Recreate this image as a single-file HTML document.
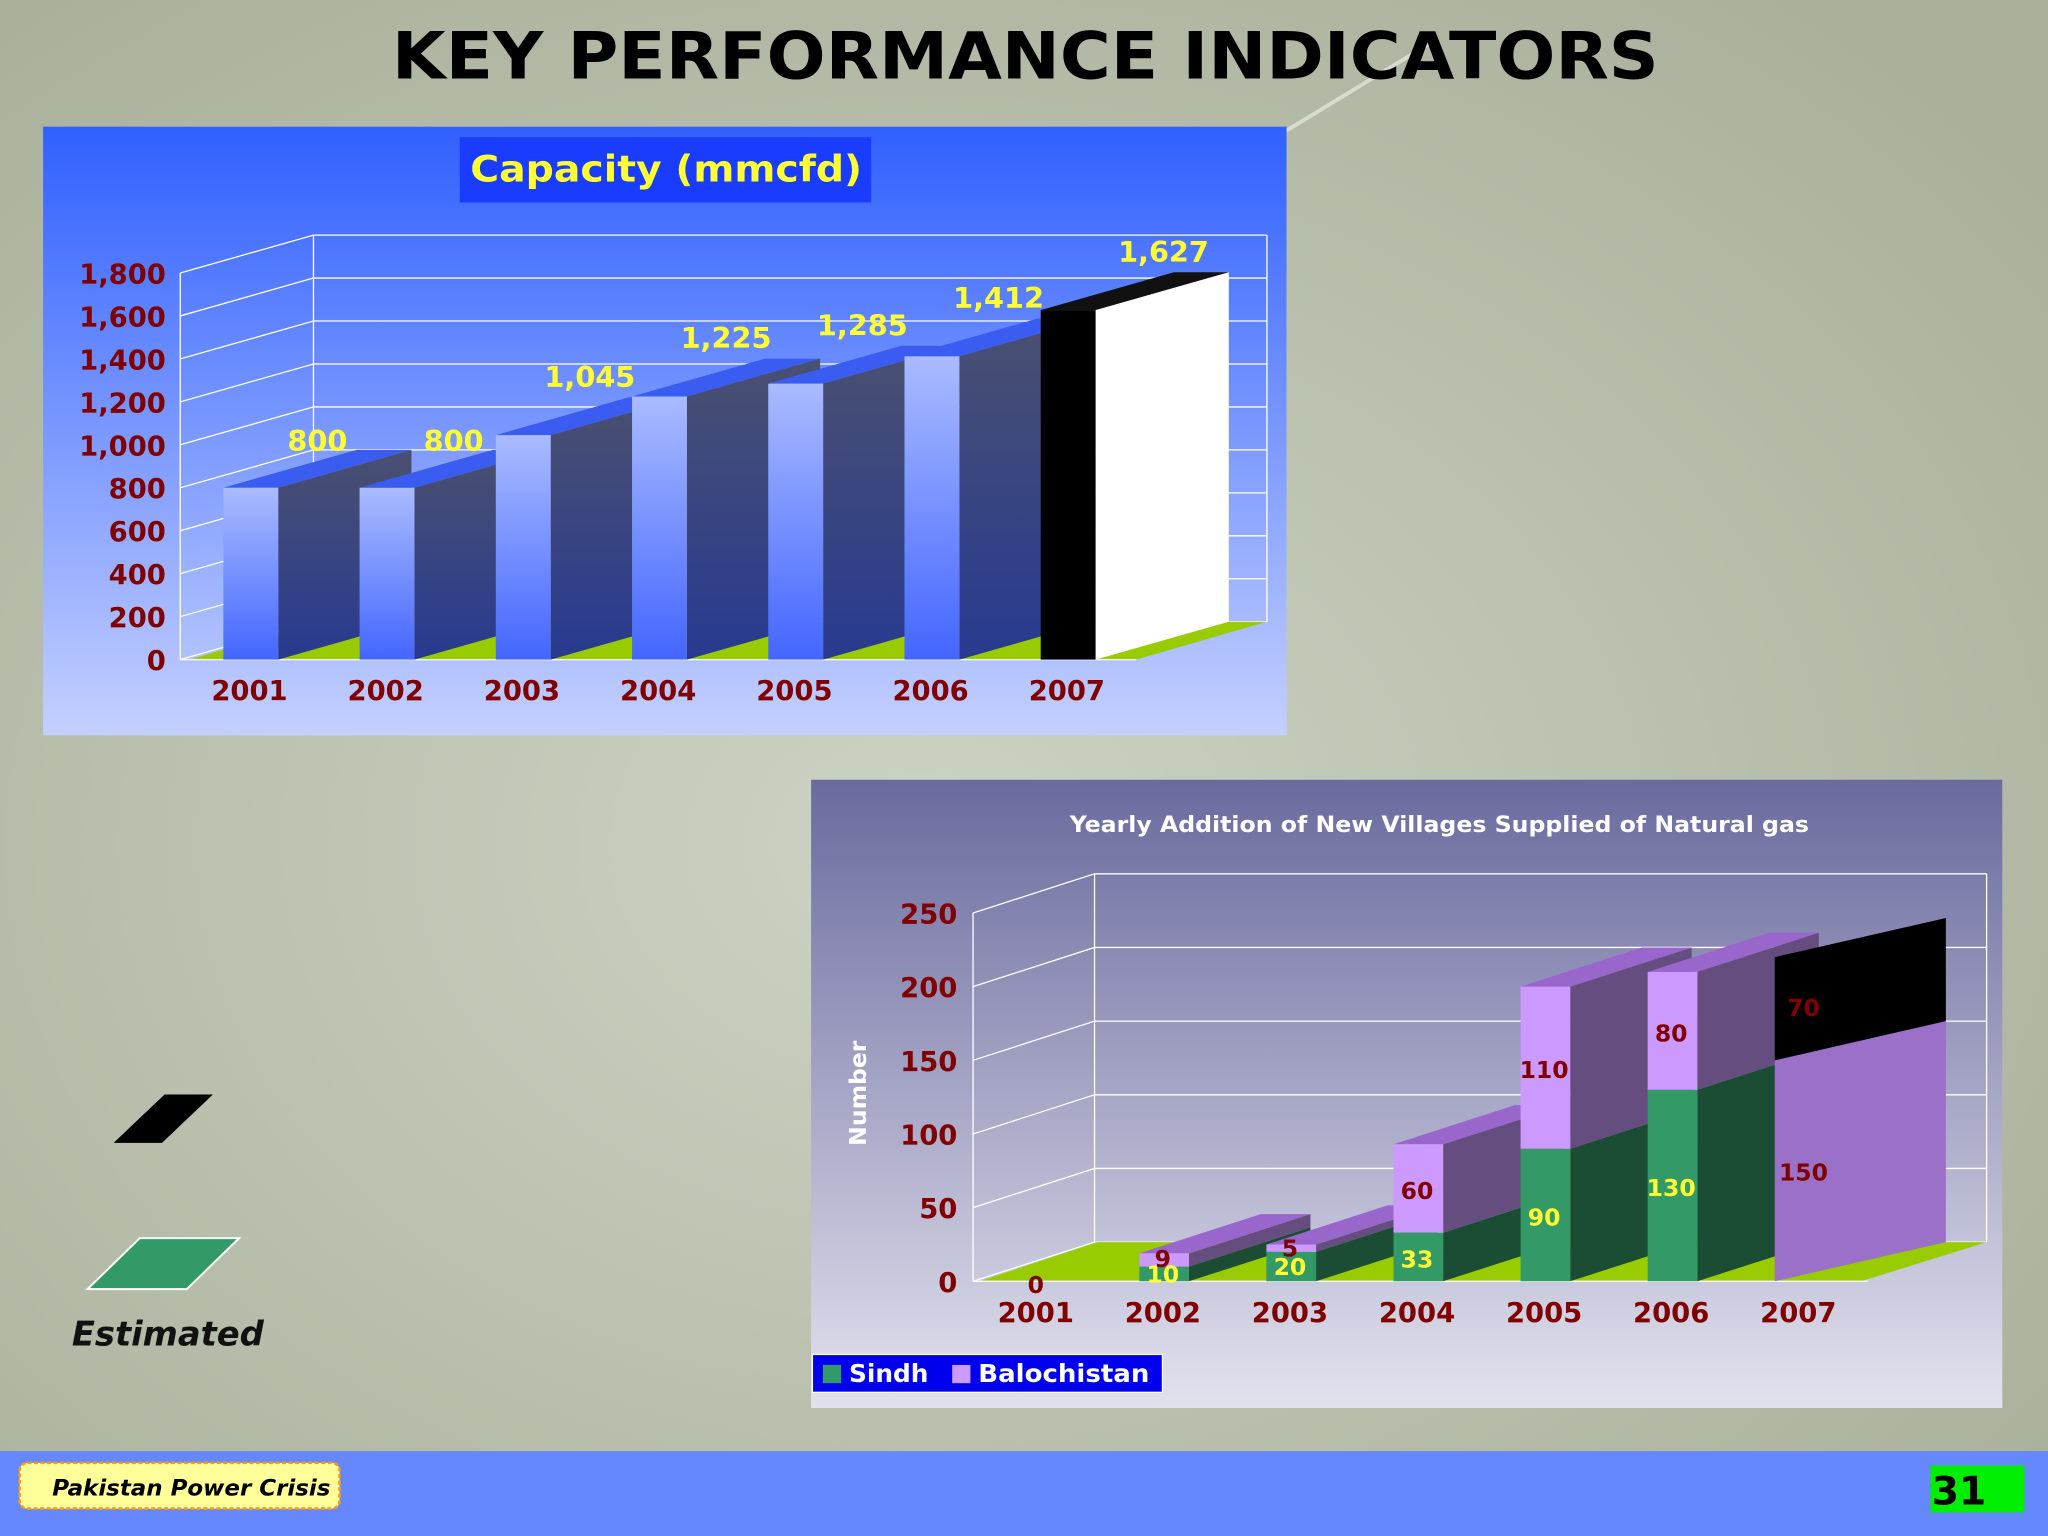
<!DOCTYPE html>
<html><head><meta charset="utf-8"><style>
html,body{margin:0;padding:0;width:2048px;height:1536px;overflow:hidden;background:#b5bca8}
svg{display:block}
text{font-family:"DejaVu Sans","Liberation Sans",sans-serif;font-weight:bold}
</style></head><body>
<svg id="s" width="2048" height="1536" viewBox="0 0 1568 1176" preserveAspectRatio="none" xmlns="http://www.w3.org/2000/svg">
<defs>
<radialGradient id="bg" cx="0.45" cy="0.55" r="0.7"><stop offset="0" stop-color="#cdd3c3"/><stop offset="1" stop-color="#a9b09b"/></radialGradient>
<linearGradient id="p1" x1="0" y1="0" x2="0" y2="1"><stop offset="0" stop-color="#3060ff"/><stop offset="1" stop-color="#c4d0ff"/></linearGradient>
<linearGradient id="p2" x1="0" y1="0" x2="0" y2="1"><stop offset="0" stop-color="#6a6a9e"/><stop offset="1" stop-color="#e2e2ee"/></linearGradient>
<linearGradient id="bf" x1="0" y1="0" x2="0" y2="1"><stop offset="0" stop-color="#aabbff"/><stop offset="1" stop-color="#4466ff"/></linearGradient>
<linearGradient id="bs" x1="0" y1="0" x2="0" y2="1"><stop offset="0" stop-color="#4a5070"/><stop offset="1" stop-color="#283a90"/></linearGradient>
</defs>
<rect width="1568" height="1176" fill="url(#bg)"/>
<line x1="985" y1="100" x2="1100" y2="30" stroke="#e8ece0" stroke-width="3" opacity="0.7"/>
<text x="785" y="60" font-size="50" text-anchor="middle" textLength="970" lengthAdjust="spacingAndGlyphs" fill="#000">KEY PERFORMANCE INDICATORS</text>

<g id="c1">
<rect x="33" y="97" width="952" height="466" fill="url(#p1)"/>
<rect x="352" y="105" width="315" height="50" fill="#1a3cff"/>
<text x="510" y="139" font-size="28" text-anchor="middle" textLength="300" lengthAdjust="spacingAndGlyphs" fill="#ffff33">Capacity (mmcfd)</text>
</g>

<g id="c2">
<rect x="621" y="597" width="912" height="481" fill="url(#p2)"/>
<text x="1102" y="637" font-size="17" text-anchor="middle" textLength="566" lengthAdjust="spacingAndGlyphs" fill="#fff">Yearly Addition of New  Villages Supplied of Natural gas</text>
<text transform="translate(663,837) rotate(-90)" font-size="18" text-anchor="middle" fill="#fff">Number</text>
<rect x="622" y="1037" width="268" height="29" fill="#0000ee" stroke="#fff"/>
<rect x="630" y="1045" width="14" height="14" fill="#339966"/>
<text x="650" y="1058" font-size="19" fill="#fff">Sindh</text>
<rect x="729" y="1045" width="14" height="14" fill="#cc99ff"/>
<text x="749" y="1058" font-size="19" fill="#fff" textLength="131" lengthAdjust="spacingAndGlyphs">Balochistan</text>
</g>

<polygon points="87,875 124,875 163,838 126,838" fill="#000"/>
<polygon points="67,987 143,987 183,948 107,948" fill="#339966" stroke="#fff" stroke-width="1.5"/>
<text x="55" y="1030" font-size="26" font-style="italic" textLength="147" lengthAdjust="spacingAndGlyphs" fill="#111">Estimated</text>

<rect x="0" y="1111" width="1568" height="65" fill="#6688ff"/>
<rect x="15" y="1120" width="245" height="35" rx="6" fill="#ffff99" stroke="#ff9900" stroke-dasharray="3,2" stroke-width="2"/>
<text x="40" y="1145" font-size="17" font-style="italic" textLength="213" lengthAdjust="spacingAndGlyphs" fill="#000">Pakistan Power Crisis</text>
<rect x="1478" y="1122" width="72" height="36" fill="#00ee00"/>
<text x="1479" y="1152" font-size="30" fill="#000">31</text>
</svg>
<script>
var NS="http://www.w3.org/2000/svg";
var capYears=["2001","2002","2003","2004","2005","2006","2007"];
var capValues=[800,800,1045,1225,1285,1412,1627];
var capLabels=["800","800","1,045","1,225","1,285","1,412","1,627"];
var capTicks=[0,200,400,600,800,1000,1200,1400,1600,1800];
var capTickLabels=["0","200","400","600","800","1,000","1,200","1,400","1,600","1,800"];

var vilYears=["2001","2002","2003","2004","2005","2006","2007"];
var sindh=[0,10,20,33,90,130,150];
var balochistan=[0,9,5,60,110,80,70];
var vilTicks=[0,50,100,150,200,250];

function mk(tag,attrs,parent,txt){var e=document.createElementNS(NS,tag);for(var k in attrs)e.setAttribute(k,attrs[k]);if(txt!==undefined)e.textContent=txt;parent.appendChild(e);return e;}

// Chart 1
(function(){
var g=document.getElementById('c1');
function y(v){return 505-v*296/1800;}
function x(i){return 191+i*104.3;}
var dx=102,dy=-29;
var grid=mk('g',{},g);


capTicks.forEach(function(v,k){
  var l=mk('polyline',{points:"138,"+y(v)+" "+(138+dx)+","+(y(v)+dy)+" 970,"+(y(v)+dy),fill:"none",stroke:"#fff","stroke-width":1},grid);
  
  
  var t=mk('text',{x:127,y:y(v)+8,"font-size":21,"text-anchor":"end",fill:"#800000"},g,capTickLabels[k]);
  
  
});
mk('line',{x1:240,y1:y(1800)+dy,x2:240,y2:y(0)+dy,stroke:"#fff"},g);
mk('line',{x1:970,y1:y(1800)+dy,x2:970,y2:y(0)+dy,stroke:"#fff"},g);
mk('line',{x1:138,y1:y(1800),x2:138,y2:y(0),stroke:"#fff"},g);
var fl=mk('polygon',{points:"145,505 870,505 970,476 243,476",fill:"#99cc00"},g);


mk('line',{x1:138,y1:505,x2:870,y2:505,stroke:"#fff"},g);
capValues.forEach(function(v,i){
  var last=i===capValues.length-1;
  var x0=x(i)-20,x1=x(i)+22,yt=y(v),yb=y(0);
  var bar=mk('g',{},g);
  
  
  mk('polygon',{points:x0+","+yt+" "+(x0+dx)+","+(yt+dy)+" "+(x1+dx)+","+(yt+dy)+" "+x1+","+yt,fill:last?"#111":"#3a5cf0"},bar);
  mk('polygon',{points:x1+","+yt+" "+(x1+dx)+","+(yt+dy)+" "+(x1+dx)+","+(yb+dy)+" "+x1+","+yb,fill:last?"#fff":"url(#bs)"},bar);
  mk('rect',{x:x0,y:yt,width:x1-x0,height:yb-yt,fill:last?"#000":"url(#bf)"},bar);
  var lb=mk('text',{x:x(i)+52+(last?22:0),y:yt+dy+(i<2?1:-8),"font-size":22,"text-anchor":"middle",fill:"#ffff33"},g,capLabels[i]);
  
  
  var xl=mk('text',{x:x(i),y:536,"font-size":21,"text-anchor":"middle",fill:"#800000"},g,capYears[i]);
  
  
});
})();

// Chart 2
(function(){
var g=document.getElementById('c2');
function y(v){return 981-v*282/250;}
function x(i){return 793+i*97.3;}
var dy=-30;
vilTicks.forEach(function(v){
  var l=mk('polyline',{points:"745,"+y(v)+" "+(745+93)+","+(y(v)+dy)+" 1521,"+(y(v)+dy),fill:"none",stroke:"#fff"},g);
  
  
  var t=mk('text',{x:733,y:y(v)+8,"font-size":21,"text-anchor":"end",fill:"#800000"},g,String(v));
  
  
});
mk('line',{x1:838,y1:y(250)+dy,x2:838,y2:y(0)+dy,stroke:"#fff"},g);
mk('line',{x1:1521,y1:y(250)+dy,x2:1521,y2:y(0)+dy,stroke:"#fff"},g);
mk('line',{x1:745,y1:y(250),x2:745,y2:y(0),stroke:"#fff"},g);
var fl=mk('polygon',{points:"750,981 1425,981 1521,951 840,951",fill:"#99cc00"},g);


mk('line',{x1:745,y1:981,x2:1430,y2:981,stroke:"#fff"},g);
vilYears.forEach(function(yr,i){
  var last=i===vilYears.length-1;
  var dx=last?131:93;
  var x0=x(i)-18,x1=x(i)+20;
  if(last){x0=x(i)-18;x1=x0;}
  var segs=[[0,sindh[i],"#339966",last?"#9a70c8":"#1a4d33","#2a7a55","sindh"],[sindh[i],sindh[i]+balochistan[i],"#cc99ff",last?"#000":"#664d80","#9966cc","balochistan"]];
  segs.forEach(function(s,k){
    var b=s[0],t=s[1];if(t<=b)return;
    var yb=y(b),yt=y(t);
    var seg=mk('g',{},g);
    
    
    mk('polygon',{points:x1+","+yt+" "+(x1+dx)+","+(yt+dy)+" "+(x1+dx)+","+(yb+dy)+" "+x1+","+yb,fill:s[3]},seg);
    if(!last&&(k===1||balochistan[i]===0)) mk('polygon',{points:x0+","+yt+" "+(x0+93)+","+(yt+dy)+" "+(x1+93)+","+(yt+dy)+" "+x1+","+yt,fill:s[4]},seg);
    if(!last) mk('rect',{x:x0,y:yt,width:x1-x0,height:yb-yt,fill:s[2]},seg);
  });
  var sy=(y(0)+y(sindh[i]))/2+8, by=(y(sindh[i])+y(sindh[i]+balochistan[i]))/2+8;
  var lx=last?x(i)+4:x(i);
  if(i===0){sy=990;}
  if(i===1){sy=982;by=970;}
  if(i===2){sy=976;by=962;}
  if(last){sy=904;by=778;}
  var ls=mk('text',{x:lx,y:sy,"font-size":18,"text-anchor":"middle",fill:(last||i===0)?"#800000":"#ffff33"},g,String(sindh[i]));
  
  
  if(balochistan[i]>0){
    var lb=mk('text',{x:lx,y:by,"font-size":18,"text-anchor":"middle",fill:"#800000"},g,String(balochistan[i]));
    
    
  }
  var xl=mk('text',{x:x(i),y:1012,"font-size":21,"text-anchor":"middle",fill:"#800000"},g,yr);
  
  
});
})();
</script>
</body></html>
